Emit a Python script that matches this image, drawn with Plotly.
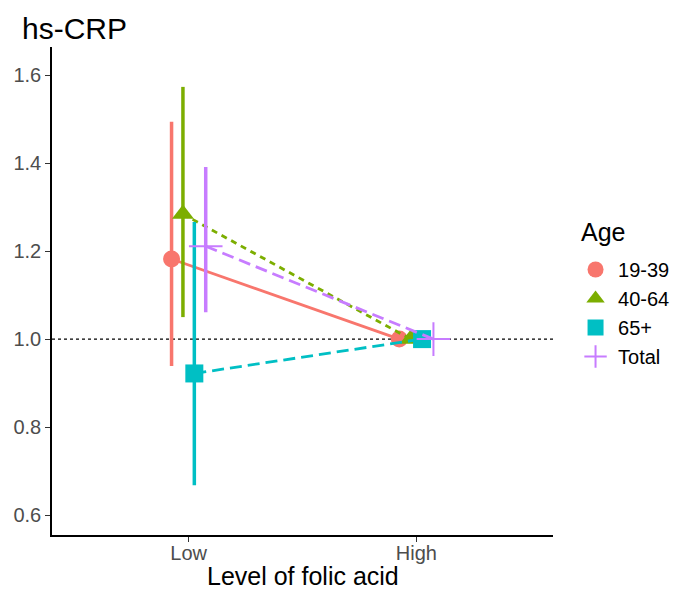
import plotly.graph_objects as go

# ---- data ----
levels = ["Low", "High"]
groups = ["19-39", "40-64", "65+", "Total"]
estimate = {
    "19-39": [1.182, 1.0],
    "40-64": [1.284, 1.0],
    "65+":   [0.922, 1.0],
    "Total": [1.211, 1.0],
}
lower = {
    "19-39": [0.939, 1.0],
    "40-64": [1.050, 1.0],
    "65+":   [0.668, 1.0],
    "Total": [1.061, 1.0],
}
upper = {
    "19-39": [1.494, 1.0],
    "40-64": [1.573, 1.0],
    "65+":   [1.266, 1.0],
    "Total": [1.391, 1.0],
}

colors = {"19-39": "#F8766D", "40-64": "#7CAE00", "65+": "#00BFC4", "Total": "#C77CFF"}
symbols = {"19-39": "circle", "40-64": "triangle-up", "65+": "square", "Total": "cross-thin"}
sizes = {"19-39": 17, "40-64": 19, "65+": 18, "Total": 24}
dashes = {"19-39": "solid", "40-64": "6px,5px", "65+": "12px,6px", "Total": "12px,6px"}
dodge = 0.2

fig = go.Figure()
n = len(groups)
for i, g in enumerate(groups):
    off = (i - (n - 1) / 2) * dodge / n
    xs = [k + 1 + off for k in range(len(levels))]
    ys = estimate[g]
    up = [u - y for u, y in zip(upper[g], ys)]
    dn = [y - l for l, y in zip(lower[g], ys)]
    marker = dict(symbol=symbols[g], size=sizes[g], color=colors[g])
    if g == "Total":
        marker["line"] = dict(color=colors[g], width=2)
    fig.add_trace(go.Scatter(
        x=xs, y=ys, name=g, mode="lines+markers",
        line=dict(color=colors[g], width=2.8, dash=dashes[g]),
        marker=marker,
        error_y=dict(type="data", symmetric=False, array=up, arrayminus=dn,
                     color=colors[g], thickness=3.5, width=0),
        hoverinfo="skip", showlegend=False,
    ))

# legend entries (marker keys, as in the original legend)
for g in groups:
    marker = dict(symbol=symbols[g], size=min(sizes[g], 18), color=colors[g])
    if g == "Total":
        marker["line"] = dict(color=colors[g], width=2)
        marker["size"] = 22
    fig.add_trace(go.Scatter(x=[None], y=[None], name=g, mode="markers",
                             marker=marker, showlegend=True, hoverinfo="skip"))

fig.add_shape(type="line", xref="paper", x0=0, x1=1, yref="y", y0=1.0, y1=1.0,
              line=dict(color="black", width=1.3, dash="dot"), layer="below")

fig.add_annotation(text="Age", xref="paper", yref="paper",
                   x=(579 - 52) / 501, xanchor="left",
                   y=(535 - 232) / 488, yanchor="middle",
                   showarrow=False, font=dict(size=25, color="black"))

fig.add_annotation(text="Level of folic acid", xref="paper", yref="paper",
                   x=0.5, xanchor="center",
                   y=(535 - 576) / 488, yanchor="middle",
                   showarrow=False, borderpad=0, font=dict(size=25, color="black"))

fig.update_layout(
    width=675, height=591,
    margin=dict(l=52, r=122, t=47, b=56, autoexpand=False),
    plot_bgcolor="white", paper_bgcolor="white",
    font=dict(family="Liberation Sans, Arial, sans-serif", color="black"),
    title=dict(text="hs-CRP", x=22 / 675, xanchor="left", xref="container",
               y=1 - 28 / 591, yanchor="middle", yref="container",
               font=dict(size=30, color="black")),
    xaxis=dict(range=[0.4, 2.6], tickvals=[1, 2], ticktext=levels,
               showgrid=False, zeroline=False, showline=True, linecolor="black", linewidth=1.5,
               ticks="outside", ticklen=5, tickcolor="#333333", tickwidth=1.2,
               ticklabelstandoff=-6,
               tickfont=dict(size=20, color="#4D4D4D"), automargin=False),
    yaxis=dict(range=[0.555, 1.6636], tickvals=[0.6, 0.8, 1.0, 1.2, 1.4, 1.6],
               ticktext=["0.6", "0.8", "1.0", "1.2", "1.4", "1.6"],
               showgrid=False, zeroline=False, showline=True, linecolor="black", linewidth=1.5,
               ticks="outside", ticklen=5, tickcolor="#333333", tickwidth=1.2,
               tickfont=dict(size=20, color="#4D4D4D"), automargin=False),
    legend=dict(x=1.04, xanchor="left", y=(535 - 250) / 488, yanchor="top",
                font=dict(size=20, color="black"), bgcolor="rgba(0,0,0,0)",
                itemwidth=35),
    showlegend=True,
)

fig.write_html("out.html")
